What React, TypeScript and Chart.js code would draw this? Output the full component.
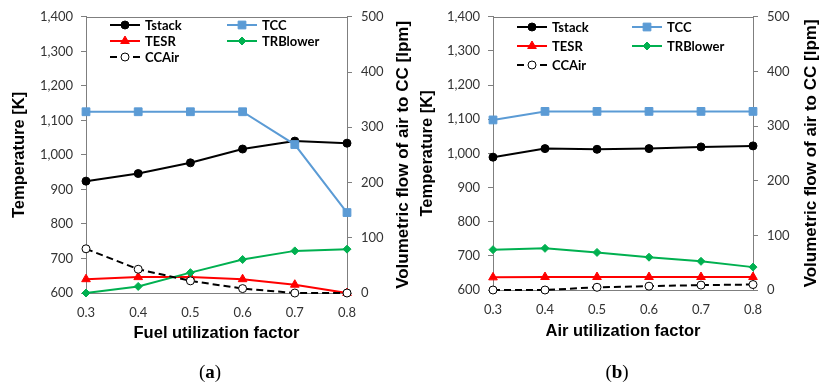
import React, { useEffect, useRef } from 'react';
import { Chart, registerables } from 'chart.js';

Chart.register(...registerables);

// ---- data ----
const xValues = [0.3, 0.4, 0.5, 0.6, 0.7, 0.8];

// Panel (a): fuel utilization factor
const tstackA = [924, 946, 977, 1017, 1040, 1034];
const tccA = [1125, 1125, 1125, 1125, 1030, 833];
const tesrA = [640, 646, 646, 640, 624, 600];
const trblowerA = [600, 619, 659, 697, 722, 727];
const ccairA = [80, 43, 22, 8, 0, 0];

// Panel (b): air utilization factor
const tstackB = [989, 1014, 1012, 1014, 1019, 1022];
const tccB = [1098, 1123, 1123, 1123, 1123, 1123];
const tesrB = [637, 638, 638, 638, 638, 638];
const trblowerB = [718, 722, 710, 696, 684, 667];
const ccairB = [0, 0, 5, 7, 9, 10];

const seriesNames = ['Tstack', 'TCC', 'TESR', 'TRBlower', 'CCAir'];
const seriesColors = ['#000000', '#5b9bd5', '#ff0000', '#00b050', '#000000'];

const FONT = 'Lato, "Open Sans", sans-serif';
const TITLE_FONT = '"Liberation Sans", Arial, sans-serif';
const AXIS = '#7f7f7f';
const TICK_COLOR = '#333333';
const RIGHT_TITLE = 'Volumetric flow of air to CC [lpm]';

function drawMarker(ctx: CanvasRenderingContext2D, style: string, x: number, y: number, r: number, fill: string, stroke: string) {
  ctx.save();
  ctx.beginPath();
  if (style === 'circle') {
    ctx.arc(x, y, r, 0, Math.PI * 2);
  } else if (style === 'rect') {
    const s = Math.SQRT1_2 * r;
    ctx.rect(x - s, y - s, 2 * s, 2 * s);
  } else if (style === 'triangle') {
    for (let i = 0; i < 3; i++) {
      const a = (i * 2 * Math.PI) / 3;
      const px = x + Math.sin(a) * r;
      const py = y - Math.cos(a) * r;
      if (i === 0) ctx.moveTo(px, py);
      else ctx.lineTo(px, py);
    }
    ctx.closePath();
  } else if (style === 'rectRot') {
    ctx.moveTo(x - r, y);
    ctx.lineTo(x, y - r);
    ctx.lineTo(x + r, y);
    ctx.lineTo(x, y + r);
    ctx.closePath();
  }
  ctx.fillStyle = fill;
  ctx.fill();
  ctx.strokeStyle = stroke;
  ctx.lineWidth = 1;
  ctx.stroke();
  ctx.restore();
}

const customLegend = {
  id: 'customLegend',
  afterDatasetsDraw(chart: any, _args: any, opts: any) {
    const { ctx, chartArea } = chart;
    // top border of the plot box
    ctx.save();
    ctx.strokeStyle = AXIS;
    ctx.lineWidth = 1;
    ctx.beginPath();
    ctx.moveTo(chartArea.left, Math.round(chartArea.top) + 0.5);
    ctx.lineTo(chartArea.right, Math.round(chartArea.top) + 0.5);
    ctx.stroke();
    ctx.restore();

    // right axis title, reading bottom-to-top
    ctx.save();
    ctx.translate(chart.width - opts.rightTitleOffset, (chartArea.top + chartArea.bottom) / 2);
    ctx.rotate(-Math.PI / 2);
    ctx.fillStyle = '#000000';
    ctx.font = 'bold 17px ' + TITLE_FONT;
    ctx.textAlign = 'center';
    ctx.textBaseline = 'middle';
    ctx.fillText(RIGHT_TITLE, 0, 0);
    ctx.restore();

    const styles = ['circle', 'rect', 'triangle', 'rectRot', 'circle'];
    const radii = [4, 5.5, 5, 4, 4];
    const cols = opts.cols as number[];
    const rows = opts.rows as number[];
    const place = [
      [0, 0],
      [1, 0],
      [0, 1],
      [1, 1],
      [0, 2],
    ];
    ctx.save();
    seriesNames.forEach((name, i) => {
      const x0 = chartArea.left + cols[place[i][0]];
      const y = rows[place[i][1]];
      const color = seriesColors[i];
      ctx.strokeStyle = color;
      ctx.lineWidth = 2;
      ctx.beginPath();
      if (i === 4) {
        ctx.moveTo(x0, y);
        ctx.lineTo(x0 + 7, y);
        ctx.moveTo(x0 + 23, y);
        ctx.lineTo(x0 + 30, y);
      } else {
        ctx.moveTo(x0, y);
        ctx.lineTo(x0 + 30, y);
      }
      ctx.stroke();
      if (i === 4) drawMarker(ctx, 'circle', x0 + 15, y, radii[i], '#ffffff', '#000000');
      else drawMarker(ctx, styles[i], x0 + 15, y, radii[i], color, color);
      ctx.fillStyle = '#000000';
      ctx.font = 'bold 13px ' + FONT;
      ctx.textBaseline = 'middle';
      ctx.textAlign = 'left';
      ctx.fillText(name, x0 + 35, y + 1);
    });
    ctx.restore();
  },
};

type Panel = {
  tstack: number[];
  tcc: number[];
  tesr: number[];
  trblower: number[];
  ccair: number[];
  xTitle: string;
  yWidth: number;
  y1Width: number;
  xHeight: number;
  xTitlePad: number;
  yTitlePad: number;
  rightTitleOffset: number;
  legendCols: number[];
  legendRows: number[];
};

function makeConfig(p: Panel): any {
  const mk = (arr: number[]) => xValues.map((x, i) => ({ x, y: arr[i] }));
  const base = { borderWidth: 2, tension: 0, clip: false, pointBorderWidth: 1 };
  return {
    type: 'line',
    data: {
      datasets: [
        { ...base, label: seriesNames[0], data: mk(p.tstack), borderColor: seriesColors[0], backgroundColor: seriesColors[0], pointStyle: 'circle', pointRadius: 4, yAxisID: 'y', order: 5 },
        { ...base, label: seriesNames[1], data: mk(p.tcc), borderColor: seriesColors[1], backgroundColor: seriesColors[1], pointStyle: 'rect', pointRadius: 5.5, yAxisID: 'y', order: 4 },
        { ...base, label: seriesNames[2], data: mk(p.tesr), borderColor: seriesColors[2], backgroundColor: seriesColors[2], pointStyle: 'triangle', pointRadius: 5, yAxisID: 'y', order: 3 },
        { ...base, label: seriesNames[3], data: mk(p.trblower), borderColor: seriesColors[3], backgroundColor: seriesColors[3], pointStyle: 'rectRot', pointRadius: 4, yAxisID: 'y', order: 2 },
        { ...base, label: seriesNames[4], data: mk(p.ccair), borderColor: '#000000', backgroundColor: '#ffffff', pointBackgroundColor: '#ffffff', pointBorderColor: '#000000', borderDash: [7, 4], pointStyle: 'circle', pointRadius: 4, yAxisID: 'y1', order: 1 },
      ],
    },
    options: {
      animation: false,
      responsive: false,
      events: [],
      layout: { padding: { top: 13, left: 0, right: 0, bottom: 0 } },
      plugins: {
        legend: { display: false },
        tooltip: { enabled: false },
        customLegend: { cols: p.legendCols, rows: p.legendRows, rightTitleOffset: p.rightTitleOffset },
      },
      scales: {
        x: {
          type: 'linear',
          min: 0.3,
          max: 0.8,
          ticks: {
            stepSize: 0.1,
            callback: (v: any) => Number(v).toFixed(1),
            font: { family: FONT, size: 13 },
            color: TICK_COLOR,
            padding: 12,
            maxRotation: 0,
          },
          grid: { display: true, drawOnChartArea: false, drawTicks: false, color: AXIS },
          border: { display: true, color: AXIS, width: 1 },
          title: { display: true, text: p.xTitle, font: { family: TITLE_FONT, size: 16.5, weight: 'bold' }, color: '#000000', padding: { top: 0, bottom: p.xTitlePad } },
          afterFit: (s: any) => { s.height = p.xHeight; },
        },
        y: {
          type: 'linear',
          position: 'left',
          min: 600,
          max: 1400,
          ticks: {
            stepSize: 100,
            callback: (v: any) => Number(v).toLocaleString('en-US'),
            font: { family: FONT, size: 13 },
            color: TICK_COLOR,
            padding: 8,
          },
          grid: { display: true, drawOnChartArea: false, drawTicks: true, tickLength: 5, color: AXIS },
          border: { display: true, color: AXIS, width: 1 },
          title: { display: true, text: 'Temperature [K]', font: { family: TITLE_FONT, size: 16.5, weight: 'bold' }, color: '#000000', padding: { top: p.yTitlePad, bottom: 0 } },
          afterFit: (s: any) => { s.width = p.yWidth; },
        },
        y1: {
          type: 'linear',
          position: 'right',
          min: 0,
          max: 500,
          ticks: {
            stepSize: 100,
            font: { family: FONT, size: 13 },
            color: TICK_COLOR,
            padding: 9,
          },
          grid: { display: true, drawOnChartArea: false, drawTicks: true, tickLength: 5, color: AXIS },
          border: { display: true, color: AXIS, width: 1 },
          title: { display: false },
          afterFit: (s: any) => { s.width = p.y1Width; },
        },
      },
    },
    plugins: [customLegend],
  };
}

const panelA: Panel = {
  tstack: tstackA, tcc: tccA, tesr: tesrA, trblower: trblowerA, ccair: ccairA,
  xTitle: 'Fuel utilization factor',
  yWidth: 86, y1Width: 68, xHeight: 95, xTitlePad: 45,
  yTitlePad: 10, rightTitleOffset: 12,
  legendCols: [24, 141], legendRows: [25, 41, 57],
};

const panelB: Panel = {
  tstack: tstackB, tcc: tccB, tesr: tesrB, trblower: trblowerB, ccair: ccairB,
  xTitle: 'Air utilization factor',
  yWidth: 78, y1Width: 77, xHeight: 98, xTitlePad: 47,
  yTitlePad: 3, rightTitleOffset: 19,
  legendCols: [24, 139], legendRows: [27, 46, 65],
};

function ChartPanel({ panel, left }: { panel: Panel; left: number }) {
  const ref = useRef<HTMLCanvasElement | null>(null);
  useEffect(() => {
    if (!ref.current) return;
    const chart = new Chart(ref.current, makeConfig(panel));
    return () => chart.destroy();
  }, [panel]);
  return (
    <canvas
      ref={ref}
      width={415}
      height={388}
      style={{ position: 'absolute', left, top: 0, width: 415, height: 388 }}
    />
  );
}

const captionStyle: React.CSSProperties = {
  position: 'absolute',
  top: 362,
  transform: 'translateX(-50%)',
  fontFamily: '"Liberation Serif", "DejaVu Serif", serif',
  fontSize: 19,
  lineHeight: '20px',
  color: '#000',
  whiteSpace: 'nowrap',
};

export default function App() {
  return (
    <div style={{ position: 'fixed', left: 0, top: 0, width: 830, height: 388, background: '#ffffff', overflow: 'hidden' }}>
      <ChartPanel panel={panelA} left={0} />
      <ChartPanel panel={panelB} left={415} />
      <div style={{ ...captionStyle, left: 210 }}>(<b>a</b>)</div>
      <div style={{ ...captionStyle, left: 617 }}>(<b>b</b>)</div>
    </div>
  );
}
